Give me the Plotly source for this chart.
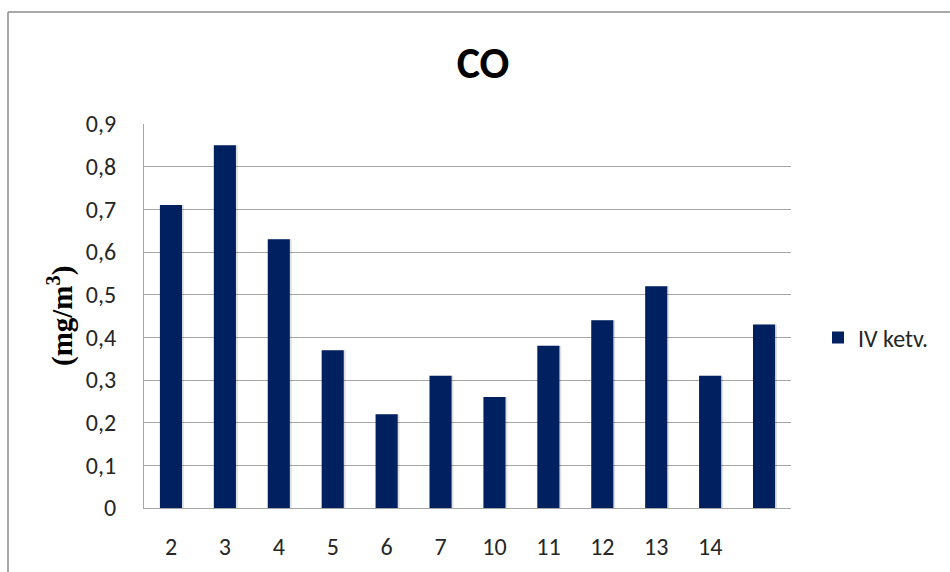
import plotly.graph_objects as go

# Monitoring points and the quarterly CO means (mg/m3)
stations = ["2", "3", "4", "5", "6", "7", "10", "11", "12", "13", "14", ""]
co_values = [0.71, 0.85, 0.63, 0.37, 0.22, 0.31, 0.26, 0.38, 0.44, 0.52, 0.31, 0.43]
series_name = "IV ketv."
y_ticks = [0, 0.1, 0.2, 0.3, 0.4, 0.5, 0.6, 0.7, 0.8, 0.9]

W, H = 950, 572
L, R, T, B = 144, 159, 124, 64
plot_w = W - L - R
plot_h = H - T - B

def px_x(px):
    return (px - L) / plot_w

def px_y(py):
    return (H - B - py) / plot_h

positions = list(range(len(stations)))
navy = "#002060"
grid = "#a6a6a6"
font_sans = "Carlito, Lato, 'Noto Sans', sans-serif"

fig = go.Figure()

# soft drop shadow under each bar
fig.add_trace(go.Bar(
    x=positions, y=co_values, width=0.42, offset=-0.18,
    marker=dict(color="rgba(0,0,0,0.12)", line=dict(width=0)),
    showlegend=False, hoverinfo="skip",
))
fig.add_trace(go.Bar(
    x=positions, y=co_values, name=series_name, width=0.41,
    marker=dict(color=navy, line=dict(width=0)),
))

fig.update_layout(
    width=W, height=H,
    margin=dict(l=L, r=R, t=T, b=B, autoexpand=False),
    paper_bgcolor="white", plot_bgcolor="white",
    barmode="overlay",
    separators=", ",
    font=dict(family=font_sans, size=24, color="#262626"),
    title=dict(text="<b>CO</b>", x=px_x(483), xref="paper", xanchor="center",
               y=1 - 63 / H, yanchor="middle",
               font=dict(family=font_sans, size=44, color="black")),
    showlegend=True,
    legend=dict(x=px_x(818), y=px_y(338), xanchor="left", yanchor="middle",
                font=dict(family=font_sans, size=24, color="#262626"),
                bgcolor="rgba(0,0,0,0)"),
    xaxis=dict(
        range=[-0.5, len(stations) - 0.5],
        tickmode="array", tickvals=positions, ticktext=stations,
        showgrid=False, zeroline=False,
        showline=True, linecolor=grid, linewidth=1,
        ticks="", ticklabelstandoff=17, automargin=False,
        fixedrange=True,
    ),
    yaxis=dict(
        range=[0, 0.9], tickmode="array", tickvals=y_ticks,
        tickformat=".1~f",
        showgrid=True, gridcolor=grid, gridwidth=1,
        zeroline=False, showline=True, linecolor=grid, linewidth=1,
        ticks="", ticklabelstandoff=22, automargin=False,
        fixedrange=True,
    ),
)

# axis title
fig.add_annotation(
    text="<b>(mg/m<sup>3</sup>)</b>", textangle=-90,
    xref="paper", yref="paper", x=px_x(60), y=px_y(316),
    xanchor="center", yanchor="middle", showarrow=False,
    font=dict(family="'Liberation Serif', 'Times New Roman', serif", size=29, color="black"),
)

# chart frame (top and left edges)
fig.add_shape(type="line", xref="paper", yref="paper",
              x0=px_x(8), x1=px_x(W + 5), y0=px_y(12), y1=px_y(12),
              line=dict(color="#8c8c8c", width=1.5))
fig.add_shape(type="line", xref="paper", yref="paper",
              x0=px_x(8), x1=px_x(8), y0=px_y(12), y1=px_y(H + 5),
              line=dict(color="#8c8c8c", width=1.5))

fig.write_html("out.html")
